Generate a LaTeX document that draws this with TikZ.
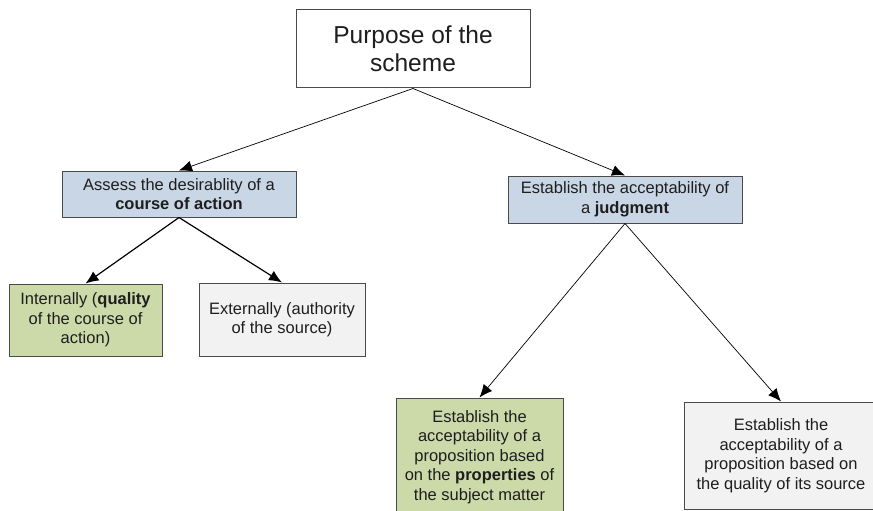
\documentclass[tikz,border=0pt]{standalone}
\usepackage{fontspec}
\setmainfont{Liberation Sans}
\usetikzlibrary{arrows.meta}
\definecolor{bluebox}{HTML}{C9D6E5}
\definecolor{greenbox}{HTML}{CCDAAA}
\definecolor{graybox}{HTML}{F2F2F2}
\definecolor{edge}{HTML}{4A4A4A}
\definecolor{txt}{HTML}{1E1E1E}
\tikzset{
  box/.style={draw=edge, line width=1pt, inner sep=0pt, align=center, text=txt,
    font=\fontsize{16.5}{19.5}\selectfont},
  arr/.style={-{Latex[length=13pt,width=11pt]}, line width=0.7pt, draw=black},
  thickarr/.style={arr, line width=1.2pt}
}
\begin{document}
\begin{tikzpicture}[x=1pt,y=-1pt]
\useasboundingbox (0,0) rectangle (873,511);
\clip (0,0) rectangle (873,511);
\node[box, fill=white, minimum width=234pt, minimum height=78pt, font=\fontsize{24.5}{28}\selectfont] (top) at (413,49) {Purpose of the\\scheme};
\node[box, fill=bluebox, minimum width=234pt, minimum height=46pt] (assess) at (179,194) {Assess the desirablity of a\\\textbf{course of action}};
\node[box, fill=bluebox, minimum width=234pt, minimum height=47pt] (judg) at (625,199.5) {Establish the acceptability of\\a \textbf{judgment}};
\node[box, fill=greenbox, minimum width=153pt, minimum height=72pt] (internal) at (85.5,320) {Internally (\textbf{quality}\\of the course of\\action)};
\node[box, fill=graybox, minimum width=166pt, minimum height=73pt] (external) at (282,319.5) {Externally (authority\\of the source)};
\node[box, fill=greenbox, minimum width=167pt, minimum height=118pt] (propg) at (479.5,457) {Establish the\\acceptability of a\\proposition based\\on the \textbf{properties} of\\the subject matter};
\node[box, fill=graybox, minimum width=194pt, minimum height=107pt] (props) at (781,455.5) {Establish the\\acceptability of a\\proposition based on\\the quality of its source};
\draw[arr] (top.south) -- (assess.north);
\draw[arr] (top.south) -- (judg.north);
\draw[thickarr] (assess.south) -- (internal.north);
\draw[thickarr] (assess.south) -- (external.north);
\draw[arr] (judg.south) -- (propg.north);
\draw[arr] (judg.south) -- (props.north);
\end{tikzpicture}
\end{document}
